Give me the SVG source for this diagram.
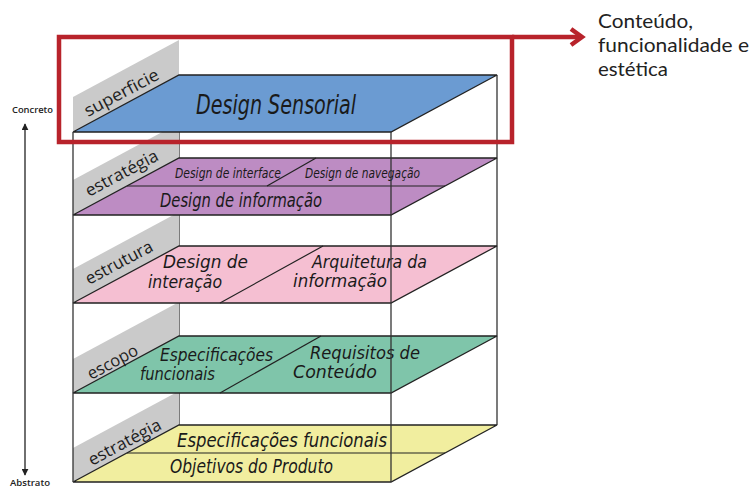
<svg xmlns="http://www.w3.org/2000/svg" width="753" height="490" viewBox="0 0 753 490">
  <style>
    .layer { stroke: #222; stroke-width: 1.3; stroke-linejoin: miter; }
    .tab { fill: #cacaca; stroke: none; }
    .edge { stroke: #333; stroke-width: 1.3; fill: none; }
    .div { stroke: #222; stroke-width: 1.2; fill: none; }
    .lbl { font-family: "Open Sans", "Liberation Sans", sans-serif; font-size: 17px; fill: #1e1e1e; }
    .it { font-family: "DejaVu Sans Condensed", "DejaVu Sans", sans-serif; font-style: italic; fill: #1a1a1a; }
    .side { font-family: Lato, "Open Sans", sans-serif; font-size: 20px; fill: #222; }
    .axis { font-family: "Open Sans", "Liberation Sans", sans-serif; font-size: 9px; font-weight: 600; fill: #222; }
  </style>
  <defs>
    <marker id="axisHead" viewBox="0 0 10 10" refX="9" refY="5" markerWidth="7" markerHeight="7" orient="auto-start-reverse" markerUnits="userSpaceOnUse">
      <path d="M0,0 L10,5 L0,10 z" fill="#222"/>
    </marker>
  </defs>

  <!-- box wireframe behind the planes -->
  <g id="frame-back">
    <line class="edge" x1="497" y1="75" x2="497" y2="425"/>
    <line class="edge" x1="179" y1="75" x2="179" y2="425"/>
  </g>

  <!-- grey side tabs -->
  <g id="tabs">
    <polygon class="tab" points="73,132 73,97 179,40 179,75"/>
    <polygon class="tab" points="73,215 73,180 179,123 179,158"/>
    <polygon class="tab" points="73,303 73,269 179,212 179,246"/>
    <polygon class="tab" points="73,393 73,359 179,302 179,336"/>
    <polygon class="tab" points="73,482 73,448 179,391 179,425"/>
  </g>

  <!-- plane: superficie -->
  <g id="superficie">
    <polygon class="layer" fill="#6b9bd2" points="73,132 179,75 497,75 391,132"/>
    <text class="lbl" transform="translate(88,117) rotate(-28)" textLength="82" lengthAdjust="spacingAndGlyphs">superficie</text>
    <text class="it" x="196" y="114" font-size="26" textLength="160" lengthAdjust="spacingAndGlyphs">Design Sensorial</text>
  </g>

  <!-- plane: estratégia (interface / navegação / informação) -->
  <g id="estrategia-1">
    <polygon class="layer" fill="#bd8cc3" points="73,215 179,158 497,158 391,215"/>
    <line class="div" x1="127" y1="186" x2="445" y2="186"/>
    <line class="div" x1="267" y1="186" x2="316" y2="158"/>
    <text class="lbl" transform="translate(89,197) rotate(-28)" textLength="80" lengthAdjust="spacingAndGlyphs">estratégia</text>
    <text class="it" x="175" y="178" font-size="14" textLength="106" lengthAdjust="spacingAndGlyphs">Design de interface</text>
    <text class="it" x="305" y="178" font-size="14" textLength="115" lengthAdjust="spacingAndGlyphs">Design de navegação</text>
    <text class="it" x="160" y="207" font-size="19" textLength="162" lengthAdjust="spacingAndGlyphs">Design de informação</text>
  </g>

  <!-- plane: estrutura -->
  <g id="estrutura">
    <polygon class="layer" fill="#f5bfd2" points="73,303 179,246 497,246 391,303"/>
    <line class="div" x1="220" y1="303" x2="323" y2="246"/>
    <text class="lbl" transform="translate(89,285) rotate(-28)" textLength="74" lengthAdjust="spacingAndGlyphs">estrutura</text>
    <text class="it" x="163" y="268" font-size="18" textLength="85" lengthAdjust="spacingAndGlyphs">Design de</text>
    <text class="it" x="148" y="288" font-size="18" textLength="74" lengthAdjust="spacingAndGlyphs">interação</text>
    <text class="it" x="312" y="268" font-size="18" textLength="115" lengthAdjust="spacingAndGlyphs">Arquitetura da</text>
    <text class="it" x="293" y="287" font-size="18" textLength="94" lengthAdjust="spacingAndGlyphs">informação</text>
  </g>

  <!-- plane: escopo -->
  <g id="escopo">
    <polygon class="layer" fill="#7fc5aa" points="73,393 179,336 497,336 391,393"/>
    <line class="div" x1="220" y1="393" x2="321" y2="336"/>
    <text class="lbl" transform="translate(91,380) rotate(-28)" textLength="55" lengthAdjust="spacingAndGlyphs">escopo</text>
    <text class="it" x="160" y="361" font-size="18" textLength="113" lengthAdjust="spacingAndGlyphs">Especificações</text>
    <text class="it" x="140" y="380" font-size="18" textLength="75" lengthAdjust="spacingAndGlyphs">funcionais</text>
    <text class="it" x="310" y="359" font-size="18" textLength="110" lengthAdjust="spacingAndGlyphs">Requisitos de</text>
    <text class="it" x="293" y="378" font-size="18" textLength="84" lengthAdjust="spacingAndGlyphs">Conteúdo</text>
  </g>

  <!-- plane: estratégia (produto) -->
  <g id="estrategia-2">
    <polygon class="layer" fill="#f1ee9f" points="73,482 179,425 497,425 391,482"/>
    <line class="div" x1="127" y1="453" x2="445" y2="453"/>
    <text class="lbl" transform="translate(92,466) rotate(-28)" textLength="80" lengthAdjust="spacingAndGlyphs">estratégia</text>
    <text class="it" x="177" y="447" font-size="19" textLength="210" lengthAdjust="spacingAndGlyphs">Especificações funcionais</text>
    <text class="it" x="170" y="473" font-size="19" textLength="163" lengthAdjust="spacingAndGlyphs">Objetivos do Produto</text>
  </g>

  <!-- front edges of the box, over the planes -->
  <g id="frame-front">
    <line class="edge" x1="73" y1="132" x2="73" y2="482"/>
    <line class="edge" x1="391" y1="132" x2="391" y2="482"/>
  </g>

  <!-- highlight frame and pointer -->
  <g id="connectors">
    <rect x="59" y="37" width="453" height="105" fill="none" stroke="#b8232b" stroke-width="4.5"/>
    <line x1="512" y1="37" x2="580" y2="37" stroke="#b8232b" stroke-width="4.5"/>
    <path d="M571,29 L582,37 L571,45" fill="none" stroke="#b8232b" stroke-width="4.5" stroke-linejoin="miter"/>
    <line x1="25" y1="124" x2="25" y2="475" stroke="#222" stroke-width="1.3" marker-start="url(#axisHead)" marker-end="url(#axisHead)"/>
  </g>

  <g id="note">
    <text class="side" x="598" y="28" textLength="95" lengthAdjust="spacingAndGlyphs">Conteúdo,</text>
    <text class="side" x="598" y="52" textLength="151" lengthAdjust="spacingAndGlyphs">funcionalidade e</text>
    <text class="side" x="598" y="76" textLength="70" lengthAdjust="spacingAndGlyphs">estética</text>
  </g>

  <g id="axis-labels">
    <text class="axis" x="12" y="113" textLength="41" lengthAdjust="spacingAndGlyphs">Concreto</text>
    <text class="axis" x="10" y="486" textLength="40" lengthAdjust="spacingAndGlyphs">Abstrato</text>
  </g>
</svg>
